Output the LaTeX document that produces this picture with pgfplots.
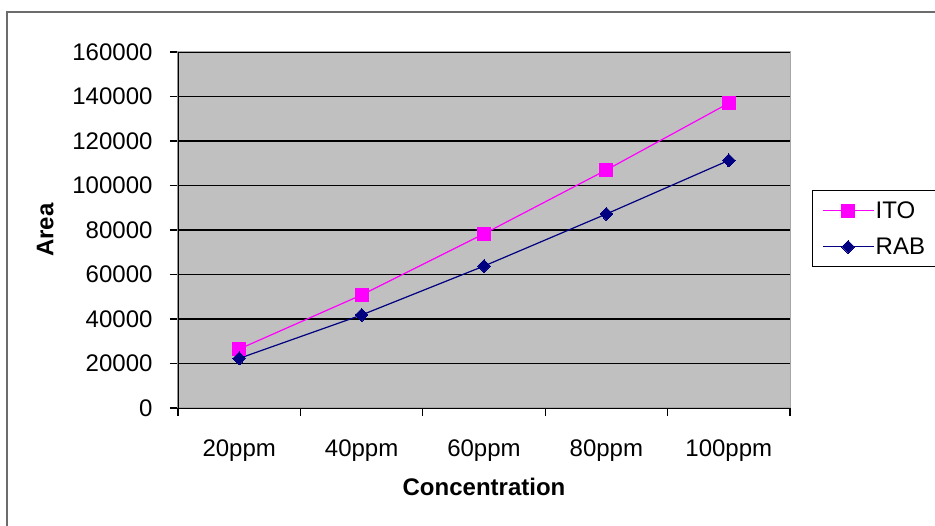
\documentclass[border=0pt]{standalone}
\usepackage{fontspec}
\setmainfont{Liberation Sans}
\usepackage{pgfplots}
\pgfplotsset{compat=1.18}
\definecolor{plotgray}{HTML}{C0C0C0}
\definecolor{ito}{HTML}{FF00FF}
\definecolor{rab}{HTML}{000080}
\newcommand\myfont{\fontsize{24}{28}\selectfont}
\begin{document}
\begin{tikzpicture}[x=1pt,y=1pt]
\useasboundingbox (0,0) rectangle (935,526);
\draw[color=gray!85!black, line width=2pt] (7,0) -- (7,514) -- (936,514);
\begin{axis}[
  at={(178pt,118pt)}, anchor=south west,
  scale only axis, width=612pt, height=356pt,
  xmin=0.5, xmax=5.5, ymin=0, ymax=160000,
  axis background/.style={fill=plotgray},
  axis line style={draw=gray!70, line width=1pt},
  xtick={1,2,3,4,5}, xticklabels={20ppm,40ppm,60ppm,80ppm,100ppm},
  major x tick style={draw=none},
  minor xtick={0.5,1.5,2.5,3.5,4.5,5.5},
  ytick={0,20000,40000,60000,80000,100000,120000,140000,160000},
  yticklabels={0,20000,40000,60000,80000,100000,120000,140000,160000},
  ymajorgrids, grid style={black, line width=1.4pt},
  tick align=outside, tick pos=left,
  major tick length=8pt, minor tick length=8pt,
  every tick/.style={black, line width=1.2pt},
  scaled y ticks=false,
  tick label style={font=\myfont},
  xticklabel style={yshift=-20pt},
  yticklabel style={xshift=-14pt},
  xlabel={\textbf{Concentration}}, ylabel={\textbf{Area}},
  label style={font=\myfont},
  xlabel style={at={(axis description cs:0.5,-0.222)}, anchor=center},
  ylabel style={at={(axis description cs:-0.217,0.5)}, anchor=center},
  legend style={at={(1.036,0.612)}, anchor=north west, draw=black, line width=1pt,
    fill=white, font=\myfont, inner xsep=10pt, inner ysep=9pt, row sep=14pt,
    nodes={inner xsep=1pt}},
  legend cell align=left,
  legend image code/.code={\draw[#1, /tikz/mark repeat=2, /tikz/mark phase=2] plot coordinates {(0pt,0pt) (25pt,0pt) (51pt,0pt)};},
]
\draw[black, line width=1.5pt] (rel axis cs:0,0) -- (rel axis cs:0,1);
\addplot[color=ito, line width=1.2pt, mark=square*, mark size=6.5pt, mark options={fill=ito, draw=ito, line width=0pt}]
  coordinates {(1,26500) (2,50800) (3,78300) (4,107000) (5,137000)};
\addlegendentry{ITO}
\addplot[color=rab, line width=1.2pt, mark=diamond*, mark size=6.5pt, mark options={fill=rab, draw=rab, line width=0pt, xscale=1.3}]
  coordinates {(1,22300) (2,41800) (3,63800) (4,87200) (5,111300)};
\addlegendentry{RAB}
\end{axis}
\end{tikzpicture}
\end{document}
